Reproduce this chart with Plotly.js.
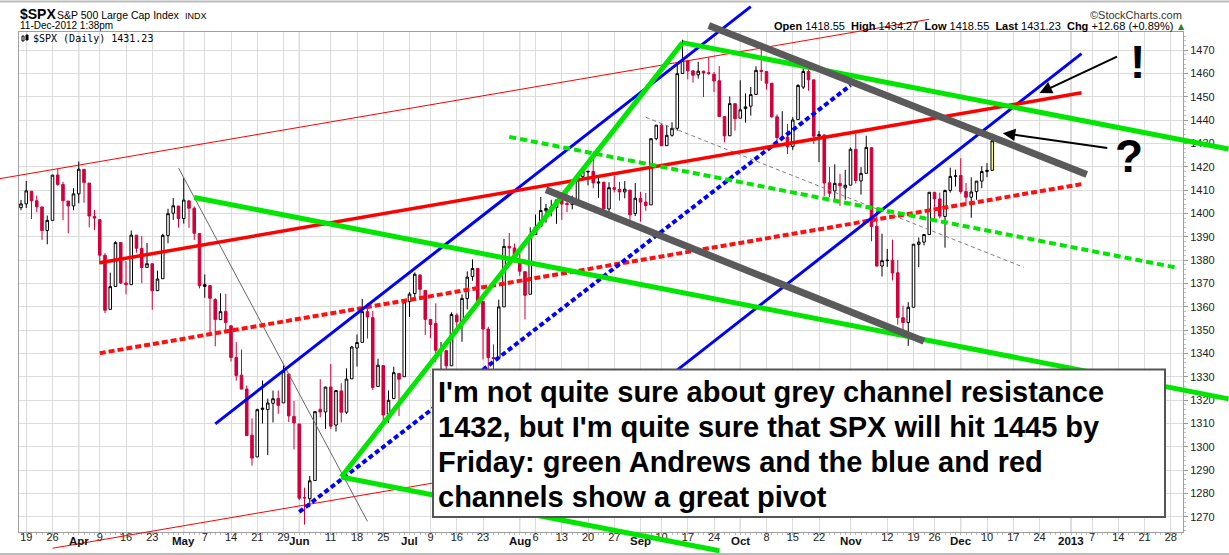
<!DOCTYPE html>
<html><head><meta charset="utf-8">
<script src="https://cdn.plot.ly/plotly-3.0.1.min.js"></script>
<style>html,body{margin:0;padding:0;background:#fff;overflow:hidden}#chart{width:1229px;height:555px}</style>
</head><body><div id="chart"></div>
<script>
// ================= DATA =================
const firstCandleDate = '2012-03-15';
const lastTradeDate = '2012-12-11';
const holidays = ['2012-04-06','2012-05-28','2012-07-04','2012-09-03','2012-10-29','2012-10-30','2012-11-22'];

const openVals = [1395.95,1402.55,1404.17,1409.59,1405.52,1402.89,1392.78,1397.11,1416.55,1412.52,1405.39,1403.31,
1408.47,1418.98,1413.09,1398.79,1397.45,1382.18,1358.98,1368.77,1387.61,1370.27,1369.57,1390.78,1385.08,1376.96,1378.53,1366.97,1372.11,1390.64,1400.19,1403.26,
1397.86,1405.50,1402.32,1391.51,1368.79,1369.16,1363.20,1354.58,1358.11,1351.93,1338.36,1330.78,1324.82,1305.05,1295.73,1316.09,1316.02,1318.72,1320.81,1318.90,1331.25,1313.09,
1309.87,1278.29,1277.82,1285.61,1316.15,1314.99,1325.72,1309.40,1324.02,1314.88,1329.19,1342.42,1344.83,1357.98,1355.43,1325.92,1334.90,1314.09,1320.71,1331.52,1330.12,
1362.33,1365.75,1373.72,1367.09,1354.66,1352.96,1341.40,1341.29,1334.81,1356.50,1353.68,1363.58,1373.01,1376.51,1362.34,1350.52,1338.35,1338.17,1360.05,1385.94,1385.27,
1379.32,1375.13,1365.45,1391.04,1394.46,1401.23,1402.26,1402.58,1405.87,1404.36,1403.89,1405.57,1415.84,1417.85,1418.13,1413.09,1413.49,1401.99,1411.13,1410.44,1409.32,1410.08,1400.07,
1406.54,1404.94,1403.74,1432.12,1437.92,1429.13,1433.56,1436.56,1460.07,1465.42,1461.19,1459.50,1461.05,1460.34,1459.76,1456.94,1441.60,1433.36,1447.13,
1440.90,1444.99,1446.05,1451.08,1461.40,1460.93,1455.90,1441.48,1432.82,1432.84,1428.75,1440.31,1454.22,1460.94,1457.34,1433.21,1433.74,1413.20,1409.74,1412.97,1410.99,
1412.20,1427.59,1414.02,1417.26,1428.27,1394.53,1377.55,1379.86,1380.03,1374.64,1355.41,1353.36,1359.88,1386.82,1387.79,1391.03,1409.15,1406.29,1398.77,1409.96,1415.95,
1416.34,1409.46,1407.05,1409.43,1413.95,1418.07,1418.55];

const highVals = [1402.63,1405.88,1414.00,1409.59,1407.75,1402.89,1399.18,1416.58,1419.15,1413.65,1405.39,1410.89,
1422.38,1419.00,1413.09,1401.60,1397.45,1383.01,1374.71,1388.13,1387.61,1379.66,1392.76,1390.78,1390.46,1387.40,1378.53,1375.57,1391.37,1402.09,1406.64,1403.26,
1415.32,1405.50,1403.07,1391.51,1373.91,1369.16,1363.73,1365.88,1365.66,1351.93,1344.94,1341.78,1326.36,1312.24,1316.39,1328.49,1320.71,1324.14,1324.20,1334.93,1331.25,1319.74,
1309.87,1282.55,1287.62,1315.13,1329.05,1325.81,1335.52,1324.31,1327.28,1333.68,1343.32,1348.22,1363.46,1361.57,1358.27,1337.82,1334.90,1324.24,1334.40,1331.52,1362.17,
1366.35,1374.81,1373.85,1367.09,1354.87,1361.54,1345.00,1341.29,1357.70,1357.26,1365.36,1375.26,1380.39,1376.51,1362.34,1351.53,1343.98,1363.13,1389.19,1391.74,1387.16,
1385.03,1375.13,1394.16,1399.63,1407.14,1404.14,1405.95,1405.98,1405.87,1410.03,1407.73,1417.44,1418.71,1418.13,1426.68,1416.12,1413.49,1413.46,1416.17,1413.63,1413.95,1410.08,1413.09,
1409.31,1408.81,1432.12,1437.92,1438.74,1437.76,1439.15,1463.76,1474.51,1465.63,1461.47,1465.05,1461.23,1467.07,1460.72,1463.24,1441.60,1450.20,1447.13,
1457.14,1451.52,1454.30,1463.14,1470.96,1460.93,1455.90,1442.52,1443.90,1438.43,1441.31,1455.51,1462.20,1464.02,1457.34,1435.46,1433.74,1420.04,1421.12,1417.09,1418.76,
1428.35,1434.27,1419.90,1433.38,1428.27,1401.23,1391.39,1384.87,1388.81,1380.13,1360.62,1362.03,1386.89,1389.77,1391.25,1409.16,1409.15,1409.01,1410.31,1419.70,1418.86,
1423.73,1413.14,1415.56,1413.95,1420.34,1421.64,1434.27];

const lowVals = [1394.69,1401.47,1402.43,1397.68,1400.64,1388.73,1386.87,1397.11,1411.95,1397.20,1391.56,1401.42,
1404.46,1404.62,1394.09,1392.92,1378.24,1357.38,1358.98,1368.77,1369.85,1365.38,1369.57,1383.29,1370.30,1376.96,1358.79,1366.82,1372.11,1387.28,1397.31,1394.00,
1395.73,1393.92,1388.71,1367.96,1363.94,1347.75,1343.13,1354.58,1348.89,1336.61,1328.41,1324.79,1304.86,1291.98,1295.73,1310.04,1296.53,1310.50,1314.23,1318.90,1310.76,1298.90,
1277.25,1266.74,1274.16,1285.61,1312.68,1307.77,1307.73,1306.62,1310.51,1314.14,1329.19,1334.46,1344.83,1346.45,1324.41,1325.92,1309.27,1310.30,1320.71,1313.29,1330.12,
1355.70,1363.53,1363.02,1348.03,1346.65,1336.27,1333.25,1325.41,1334.81,1348.51,1345.07,1358.96,1371.21,1362.19,1337.56,1329.24,1331.50,1338.17,1360.05,1381.37,1379.17,
1373.35,1354.65,1365.45,1391.04,1394.46,1396.13,1398.80,1395.62,1397.32,1400.60,1401.83,1404.15,1414.67,1412.12,1410.86,1406.78,1400.50,1398.04,1409.11,1405.59,1406.57,1397.01,1398.96,
1396.56,1401.25,1403.74,1431.45,1428.98,1429.13,1432.99,1435.55,1460.07,1457.55,1456.13,1457.88,1449.98,1459.51,1452.06,1441.59,1430.53,1433.36,1435.60,
1440.90,1439.01,1441.99,1451.08,1456.89,1453.10,1441.18,1430.64,1432.82,1425.53,1427.24,1440.31,1453.35,1452.63,1429.85,1422.06,1407.56,1407.10,1405.14,1403.28,1405.95,
1412.20,1412.91,1408.13,1417.26,1388.14,1377.51,1373.03,1377.19,1371.39,1352.50,1348.05,1343.35,1359.88,1377.04,1386.39,1391.03,1397.68,1398.03,1385.43,1409.04,1411.63,
1408.46,1403.65,1398.23,1405.93,1410.90,1415.64,1418.55];

const closeVals = [1402.60,1404.17,1409.75,1405.52,1402.89,1392.78,1397.11,1416.51,1412.52,1405.54,1403.28,1408.47,
1419.04,1413.38,1398.96,1398.08,1382.20,1358.59,1368.71,1387.57,1370.26,1369.57,1390.78,1385.14,1376.92,1378.53,1366.94,1371.97,1390.69,1399.98,1403.36,1397.91,
1405.82,1402.31,1391.57,1369.10,1369.58,1363.72,1354.58,1357.99,1353.39,1338.35,1330.66,1324.80,1304.86,1295.22,1315.99,1316.63,1318.86,1320.68,1317.82,1332.42,1313.32,1310.33,
1278.04,1278.18,1285.50,1315.13,1314.99,1325.66,1308.93,1324.18,1314.88,1329.10,1342.84,1344.78,1357.98,1355.69,1325.51,1335.02,1313.72,1319.99,1331.85,1329.04,1362.16,
1365.51,1374.02,1367.58,1354.68,1352.46,1341.47,1341.45,1334.76,1356.78,1353.64,1363.67,1372.78,1376.51,1362.66,1350.52,1338.31,1337.89,1360.02,1385.97,1385.30,1379.32,
1375.32,1365.00,1390.99,1394.23,1401.35,1402.22,1402.80,1405.87,1404.11,1403.93,1405.53,1415.51,1418.16,1418.13,1413.17,1413.49,1402.08,1411.13,1410.44,1409.30,1410.49,1399.48,1406.58,
1404.94,1403.44,1432.12,1437.92,1429.08,1433.56,1436.56,1459.99,1465.77,1461.19,1459.32,1461.05,1460.26,1460.15,1456.89,1441.59,1433.32,1447.15,1440.67,
1444.49,1445.75,1450.99,1461.40,1460.93,1455.88,1441.48,1432.56,1432.84,1428.59,1440.13,1454.92,1460.91,1457.34,1433.19,1433.82,1413.11,1408.75,1412.97,1411.94,1412.16,
1427.59,1414.20,1417.26,1428.39,1394.53,1377.51,1379.85,1380.03,1374.53,1355.49,1353.33,1359.88,1386.89,1387.81,1391.03,1409.15,1406.29,1398.94,1409.93,1415.95,1416.18,
1409.46,1407.05,1409.28,1413.94,1418.07,1418.55,1431.23];

const tickDates = ['2012-03-19','2012-03-26','2012-04-02','2012-04-09','2012-04-16','2012-04-23','2012-05-01','2012-05-07','2012-05-14','2012-05-21','2012-05-29','2012-06-01','2012-06-11','2012-06-18','2012-06-25','2012-07-02','2012-07-09','2012-07-16','2012-07-23','2012-08-01','2012-08-06','2012-08-13','2012-08-20','2012-08-27','2012-09-04','2012-09-10','2012-09-17','2012-09-24','2012-10-01','2012-10-08','2012-10-15','2012-10-22','2012-11-01','2012-11-12','2012-11-19','2012-11-26','2012-12-03','2012-12-10','2012-12-17','2012-12-24','2013-01-01','2013-01-07','2013-01-14','2013-01-21','2013-01-28'];
const tickLabels = ['19','26','Apr','9','16','23','May','7','14','21','29','Jun','11','18','25','Jul','9','16','23','Aug','6','13','20','27','Sep','10','17','24','Oct','8','15','22','Nov','12','19','26','Dec','10','17','24','2013','7','14','21','28'];

// Hand-drawn trendlines: anchor dates and prices
const lineStartDates  = ['2012-03-12','2012-03-26','2012-04-30','2012-04-09','2012-06-01','2012-09-05','2012-05-09','2012-09-12','2012-04-09','2012-05-03','2012-07-30','2012-06-13','2012-06-13','2012-09-14','2012-08-08','2012-09-21'];
const lineStartPrices = [1415.0,1256.6,1419.6,1340.2,1272.15,1441.3,1309.9,1331.2,1378.95,1406.9,1432.9,1287.1,1287.1,1473.3,1410.2,1480.6];
const lineEndDates    = ['2012-11-23','2012-07-13','2012-06-20','2013-01-03','2012-11-01','2012-12-19','2012-10-03','2013-01-03','2013-01-03','2013-02-12','2013-01-29','2012-09-14','2012-09-25','2013-02-12','2012-11-21','2013-01-04'];
const lineEndPrices   = [1483.3,1285.9,1268.1,1412.65,1455.0,1377.0,1488.7,1468.6,1451.77,1320.6,1376.9,1473.3,1255.5,1427.7,1345.3,1416.8];

const noteLines = ["I'm not quite sure about grey channel resistance",
                   "1432, but I'm quite sure that SPX will hit 1445 by",
                   "Friday: green Andrews and the blue and red",
                   "channels show a great pivot"];
const arrowMarks = ['!','?'];
const arrowTipDates = ['2012-12-24','2012-12-13'];
const arrowTipPrices = [1451.7,1434.5];

// ================= STYLES =================
const lineColors = ['#FF0000','#FF0000','#666666','#FF1010','#0000FF','#808080','#0000FF','#0000FF','#FF0000','#00E600','#00E600','#00E600','#00E600','#00E600','#5A5A5A','#5A5A5A'];
const lineWidths = [1,1,1,4,4,1,3,3,3.5,5,4,5,5,5,7,7];
const lineDashes = ['solid','solid','solid','6px,3px','5px,3px','4px,3px','solid','solid','solid','solid','7px,4px','solid','solid','solid','solid','solid'];

// ================= CALENDAR =================
function buildSessions(startStr, endStr) {
  const out = [];
  let t = Date.parse(startStr + 'T00:00:00Z');
  const end = Date.parse(endStr + 'T00:00:00Z');
  while (t <= end) {
    const d = new Date(t);
    const dow = d.getUTCDay();
    const s = d.toISOString().slice(0, 10);
    if (dow !== 0 && dow !== 6 && !(s <= lastTradeDate && holidays.includes(s))) out.push(s);
    t += 86400000;
  }
  return out;
}
const sessions = buildSessions('2012-03-01', '2013-02-28');
const origin = sessions.indexOf('2012-03-16');
const pos = s => sessions.indexOf(s) - origin;
const candleDates = sessions.slice(sessions.indexOf(firstCandleDate), sessions.indexOf(lastTradeDate) + 1);
const candleX = candleDates.map(pos);

// ================= GEOMETRY =================
const W = 1229, H = 555;
const plotL = 19, plotR = 1183, plotT = 32, plotB = 532;
const xRange = [-0.38, 221.33];
const yRange = [1263.56, 1477.84];
const kx = (xRange[1] - xRange[0]) / (plotR - plotL);
const ky = (yRange[1] - yRange[0]) / (plotB - plotT);
const fullX = [xRange[0] - plotL * kx, xRange[1] + (W - plotR) * kx];
const fullY = [yRange[0] - (H - plotB) * ky, yRange[1] + plotT * ky];
const FONT = 'Liberation Sans, Arial, sans-serif';
const RED = '#D0003A';

const n = closeVals.length;
const traces = [];
traces.push({
  type: 'candlestick', x: candleX.slice(0, n - 1),
  open: openVals.slice(0, n - 1), high: highVals.slice(0, n - 1),
  low: lowVals.slice(0, n - 1), close: closeVals.slice(0, n - 1),
  increasing: { line: { color: '#000000', width: 1 }, fillcolor: '#FFFFFF' },
  decreasing: { line: { color: RED, width: 1 }, fillcolor: RED },
  whiskerwidth: 0, hoverinfo: 'skip', showlegend: false, xaxis: 'x', yaxis: 'y'
});
traces.push({
  type: 'candlestick', x: candleX.slice(n - 1),
  open: openVals.slice(n - 1), high: highVals.slice(n - 1),
  low: lowVals.slice(n - 1), close: closeVals.slice(n - 1),
  increasing: { line: { color: '#000000', width: 1 }, fillcolor: '#FFFF66' },
  decreasing: { line: { color: '#000000', width: 1 }, fillcolor: '#FFFF66' },
  whiskerwidth: 0, hoverinfo: 'skip', showlegend: false, xaxis: 'x', yaxis: 'y'
});
for (let i = 0; i < lineStartDates.length; i++) {
  traces.push({
    type: 'scatter', mode: 'lines',
    x: [pos(lineStartDates[i]), pos(lineEndDates[i])],
    y: [lineStartPrices[i], lineEndPrices[i]],
    line: { color: lineColors[i], width: lineWidths[i], dash: lineDashes[i] },
    hoverinfo: 'skip', showlegend: false, xaxis: 'x2', yaxis: 'y2'
  });
}

const tickVals = tickDates.map(pos);
const isMonth = tickLabels.map(l => !/^\d{1,2}$/.test(l));
const tickText = tickLabels.map((l, i) => isMonth[i] ? '' : l);

const shapes = [];
tickVals.forEach((v, i) => {
  if (isMonth[i]) shapes.push({ type: 'line', xref: 'x', yref: 'paper', x0: v, x1: v,
    y0: 1 - plotB / H, y1: 1 - plotT / H, line: { color: '#B8B8B8', width: 1 }, layer: 'below' });
});
// outer frame lines
shapes.push({ type: 'line', xref: 'paper', yref: 'paper', x0: 0, x1: 1, y0: 1 - 1.5 / H, y1: 1 - 1.5 / H, line: { color: '#BBBBBB', width: 2 } });
shapes.push({ type: 'line', xref: 'paper', yref: 'paper', x0: 0, x1: 1, y0: 1 - 554 / H, y1: 1 - 554 / H, line: { color: '#BBBBBB', width: 2 } });
// legend icon
shapes.push({ type: 'rect', xref: 'paper', yref: 'paper', x0: 22 / W, x1: 24 / W, y0: 1 - 41 / H, y1: 1 - 36 / H, line: { color: '#000', width: 1 }, fillcolor: '#fff' });
shapes.push({ type: 'rect', xref: 'paper', yref: 'paper', x0: 26 / W, x1: 28 / W, y0: 1 - 40 / H, y1: 1 - 35 / H, line: { color: '#000', width: 1 }, fillcolor: '#000' });
// comment box
shapes.push({ type: 'rect', xref: 'paper', yref: 'paper', x0: 433 / W, x1: 1165 / W, y0: 1 - 517 / H, y1: 1 - 369.5 / H,
  line: { color: '#555555', width: 2 }, fillcolor: '#FFFFFF', layer: 'above' });

const last = n - 1;
const chg = closeVals[last] - closeVals[last - 1];
const pct = chg / closeVals[last - 1] * 100;
const sp = '\u00A0\u00A0';
const ohlcText = '<b>Open</b> ' + openVals[last].toFixed(2) + sp + '<b>High</b> ' + highVals[last].toFixed(2) + sp +
  '<b>Low</b> ' + lowVals[last].toFixed(2) + sp + '<b>Last</b> ' + closeVals[last].toFixed(2) + sp +
  '<b>Chg</b> ' + (chg >= 0 ? '+' : '') + chg.toFixed(2) + ' (' + (pct >= 0 ? '+' : '') + pct.toFixed(2) + '%)';

const px = v => v / W, py = v => 1 - v / H;
const annotations = [
  { xref: 'paper', yref: 'paper', x: px(18), y: py(14.5), xanchor: 'left', yanchor: 'middle', showarrow: false,
    text: '<b>$SPX</b>', font: { family: FONT, size: 14, color: '#000' } },
  { xref: 'paper', yref: 'paper', x: px(55), y: py(15), xanchor: 'left', yanchor: 'middle', showarrow: false,
    text: 'S&P 500 Large Cap Index', font: { family: FONT, size: 10.5, color: '#000' } },
  { xref: 'paper', yref: 'paper', x: px(183), y: py(15.5), xanchor: 'left', yanchor: 'middle', showarrow: false,
    text: 'INDX', font: { family: FONT, size: 9, color: '#000' } },
  { xref: 'paper', yref: 'paper', x: px(18), y: py(25.5), xanchor: 'left', yanchor: 'middle', showarrow: false,
    text: '11-Dec-2012 1:38pm', font: { family: FONT, size: 10, color: '#000' } },
  { xref: 'paper', yref: 'paper', x: px(31), y: py(38.5), xanchor: 'left', yanchor: 'middle', showarrow: false,
    text: '$SPX (Daily) ' + closeVals[last].toFixed(2), font: { family: 'DejaVu Sans Mono', size: 10, color: '#000' } },
  { xref: 'paper', yref: 'paper', x: px(1184), y: py(15), xanchor: 'right', yanchor: 'middle', showarrow: false,
    text: '\u00A9StockCharts.com', font: { family: FONT, size: 11, color: '#333' } },
  { xref: 'paper', yref: 'paper', x: px(1175), y: py(26.5), xanchor: 'right', yanchor: 'middle', showarrow: false,
    text: ohlcText, font: { family: FONT, size: 11, color: '#000' } },
  { xref: 'paper', yref: 'paper', x: px(1181), y: py(27), xanchor: 'center', yanchor: 'middle', showarrow: false,
    text: '\u25B2', font: { family: 'DejaVu Sans, sans-serif', size: 8, color: '#2E7D32' } }
];
// bold month labels on the date axis
tickVals.forEach((v, i) => {
  if (isMonth[i]) annotations.push({ xref: 'x', yref: 'paper', x: v, y: py(541), xanchor: 'center', yanchor: 'middle',
    showarrow: false, text: '<b>' + tickLabels[i] + '</b>', font: { family: FONT, size: 11.5, color: '#111' } });
});
noteLines.forEach((t, i) => annotations.push({
  xref: 'paper', yref: 'paper', x: px(436), y: py(392 + 35 * i), xanchor: 'left', yanchor: 'middle', showarrow: false,
  text: '<b>' + t + '</b>', font: { family: FONT, size: 29, color: '#000' }
}));
const tailOffsets = [[79, -37], [106, 15]];
const markOffsets = [[98, -31], [126, 23]];
arrowMarks.forEach((m, i) => {
  annotations.push({ xref: 'x2', yref: 'y2', x: pos(arrowTipDates[i]), y: arrowTipPrices[i], text: '',
    showarrow: true, arrowhead: 2, arrowsize: 1.25, arrowwidth: 2, arrowcolor: '#000', standoff: 0,
    ax: tailOffsets[i][0], ay: tailOffsets[i][1] });
  annotations.push({ xref: 'x2', yref: 'y2', x: pos(arrowTipDates[i]), y: arrowTipPrices[i], text: '<b>' + m + '</b>',
    showarrow: false, xshift: markOffsets[i][0], yshift: -markOffsets[i][1], xanchor: 'center', yanchor: 'middle',
    font: { family: FONT, size: 46, color: '#000' } });
});

const layout = {
  width: W, height: H, margin: { l: 0, r: 0, t: 0, b: 0, pad: 0 },
  paper_bgcolor: '#FFFFFF', plot_bgcolor: 'rgba(0,0,0,0)', showlegend: false,
  font: { family: FONT, size: 11, color: '#222' },
  xaxis: { domain: [plotL / W, plotR / W], range: xRange, type: 'linear', anchor: 'y',
    tickmode: 'array', tickvals: tickVals, ticktext: tickText, ticks: '', showgrid: true,
    gridcolor: '#DCDCDC', gridwidth: 1, zeroline: false, showline: true, linecolor: '#A0A0A0', linewidth: 1, mirror: true,
    tickfont: { family: FONT, size: 11, color: '#222' }, ticklabelstandoff: -5,
    minor: { tickmode: 'linear', tick0: 0, dtick: 1, ticks: 'outside', ticklen: 2, tickcolor: '#BBBBBB', showgrid: false },
    rangeslider: { visible: false }, fixedrange: true },
  yaxis: { domain: [1 - plotB / H, 1 - plotT / H], range: yRange, type: 'linear', anchor: 'x', side: 'right',
    tickmode: 'linear', tick0: 1270, dtick: 10, ticks: 'outside', ticklen: 4, tickcolor: '#999',
    showgrid: true, gridcolor: '#DCDCDC', gridwidth: 1, zeroline: false, showline: true, linecolor: '#A0A0A0', linewidth: 1, mirror: true,
    tickfont: { family: FONT, size: 11, color: '#222' },
    minor: { dtick: 2, ticks: 'outside', ticklen: 2, tickcolor: '#C0C0C0', showgrid: false }, fixedrange: true },
  xaxis2: { domain: [0, 1], range: fullX, anchor: 'y2', visible: false, fixedrange: true },
  yaxis2: { domain: [0, 1], range: fullY, anchor: 'x2', visible: false, fixedrange: true },
  shapes: shapes, annotations: annotations
};

Plotly.newPlot('chart', traces, layout, { staticPlot: true, displayModeBar: false });
</script>
</body></html>
